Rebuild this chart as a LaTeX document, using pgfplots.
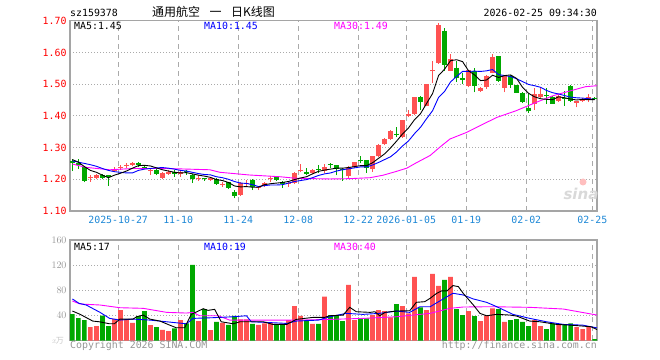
\documentclass[border=0pt]{standalone}
\usepackage{fontspec}
\setmonofont{DejaVu Sans Mono}
\setsansfont{DejaVu Sans}
\newfontfamily\cjk{Noto Sans CJK SC}
\usepackage{pgfplots}
\pgfplotsset{compat=1.18}
\usepackage{pgfplotstable}
\definecolor{cred}{RGB}{255,82,82}
\definecolor{cgreen}{RGB}{0,168,0}
\definecolor{sblue}{RGB}{30,136,214}
\definecolor{gridc}{RGB}{170,170,170}
\definecolor{framec}{RGB}{165,165,165}
\definecolor{vgray}{RGB}{150,150,150}
\definecolor{mag}{RGB}{255,0,255}
\definecolor{mblue}{RGB}{0,0,255}
\newcommand\mf{\fontsize{9.9bp}{11bp}\selectfont\ttfamily}

% i open high low close volume(x10^4)
\pgfplotstableread{
i O H L C V
0 1.258 1.263 1.226 1.250 42.1
1 1.252 1.263 1.232 1.245 35.7
2 1.240 1.242 1.190 1.196 32.5
3 1.203 1.215 1.193 1.206 21.3
4 1.205 1.218 1.200 1.214 22.9
5 1.215 1.218 1.200 1.205 39.5
6 1.212 1.214 1.180 1.206 22.9
7 1.225 1.238 1.222 1.232 34.6
8 1.237 1.245 1.230 1.240 48.5
9 1.243 1.252 1.235 1.246 33.6
10 1.245 1.254 1.242 1.252 28.2
11 1.252 1.256 1.238 1.244 38.9
12 1.240 1.244 1.232 1.236 46.9
13 1.227 1.236 1.214 1.230 24.5
14 1.230 1.234 1.212 1.218 21.3
15 1.205 1.224 1.200 1.220 17.0
16 1.218 1.228 1.214 1.224 14.9
17 1.224 1.228 1.208 1.218 19.2
18 1.218 1.230 1.208 1.222 32.5
19 1.226 1.230 1.214 1.222 27.2
20 1.213 1.216 1.188 1.200 120.5
21 1.200 1.212 1.196 1.204 30.9
22 1.203 1.205 1.196 1.200 50.1
23 1.198 1.206 1.194 1.203 16.5
24 1.200 1.203 1.182 1.186 29.8
25 1.182 1.190 1.176 1.185 28.2
26 1.190 1.193 1.170 1.174 25.0
27 1.161 1.166 1.140 1.148 39.4
28 1.150 1.190 1.148 1.188 33.6
29 1.185 1.198 1.176 1.188 33.6
30 1.199 1.200 1.166 1.176 26.6
31 1.172 1.180 1.166 1.176 25.0
32 1.178 1.192 1.176 1.189 27.2
33 1.200 1.210 1.190 1.203 28.2
34 1.207 1.208 1.196 1.197 24.5
35 1.190 1.194 1.172 1.186 25.6
36 1.184 1.194 1.175 1.188 32.5
37 1.187 1.222 1.184 1.220 54.9
38 1.227 1.249 1.222 1.230 39.4
39 1.222 1.234 1.212 1.218 32.5
40 1.220 1.232 1.218 1.230 26.6
41 1.231 1.244 1.220 1.228 26.6
42 1.226 1.248 1.220 1.240 69.8
43 1.247 1.252 1.236 1.244 40.5
44 1.244 1.246 1.212 1.233 39.4
45 1.231 1.236 1.195 1.228 30.9
46 1.209 1.242 1.205 1.240 88.5
47 1.240 1.256 1.236 1.254 32.5
48 1.261 1.274 1.250 1.258 34.1
49 1.261 1.262 1.220 1.236 35.2
50 1.233 1.274 1.223 1.272 40.5
51 1.272 1.312 1.270 1.309 48.5
52 1.311 1.330 1.308 1.327 46.9
53 1.327 1.354 1.324 1.351 36.8
54 1.344 1.366 1.332 1.340 58.1
55 1.332 1.388 1.330 1.386 54.9
56 1.400 1.420 1.395 1.405 43.2
57 1.406 1.460 1.404 1.458 101.3
58 1.458 1.462 1.419 1.445 52.8
59 1.432 1.502 1.430 1.500 48.5
60 1.540 1.573 1.505 1.543 106.1
61 1.568 1.693 1.565 1.688 86.9
62 1.669 1.677 1.542 1.559 96.5
63 1.542 1.594 1.540 1.578 101.3
64 1.552 1.573 1.506 1.518 50.1
65 1.519 1.536 1.500 1.512 40.5
66 1.494 1.546 1.490 1.544 46.9
67 1.542 1.552 1.474 1.495 38.9
68 1.479 1.490 1.475 1.488 30.9
69 1.490 1.528 1.486 1.526 39.4
70 1.536 1.594 1.534 1.585 51.2
71 1.588 1.590 1.508 1.510 50.1
72 1.489 1.530 1.474 1.525 29.8
73 1.527 1.530 1.488 1.497 32.5
74 1.496 1.498 1.472 1.473 34.1
75 1.473 1.476 1.440 1.444 29.8
76 1.426 1.470 1.410 1.416 22.9
77 1.437 1.488 1.420 1.470 32.5
78 1.460 1.490 1.457 1.468 22.9
79 1.465 1.488 1.437 1.462 18.1
80 1.460 1.462 1.438 1.438 27.2
81 1.447 1.465 1.445 1.463 24.5
82 1.456 1.478 1.432 1.453 24.5
83 1.494 1.496 1.445 1.447 27.2
84 1.441 1.448 1.427 1.447 21.3
85 1.447 1.455 1.443 1.452 18.1
86 1.450 1.470 1.443 1.458 22.9
87 1.456 1.458 1.450 1.452 2.1
}\kdata

\pgfplotstableread{
i v
0 1.262
1 1.254
2 1.240
3 1.228
4 1.222
5 1.213
6 1.205
7 1.213
8 1.219
9 1.226
10 1.235
11 1.243
12 1.244
13 1.242
14 1.236
15 1.230
16 1.226
17 1.222
18 1.220
19 1.221
20 1.217
21 1.213
22 1.210
23 1.206
24 1.199
25 1.196
26 1.190
27 1.179
28 1.176
29 1.177
30 1.175
31 1.175
32 1.183
33 1.186
34 1.188
35 1.190
36 1.193
37 1.199
38 1.204
39 1.208
40 1.217
41 1.225
42 1.229
43 1.232
44 1.235
45 1.235
46 1.237
47 1.240
48 1.243
49 1.243
50 1.252
51 1.266
52 1.280
53 1.299
54 1.320
55 1.343
56 1.362
57 1.388
58 1.407
59 1.439
60 1.470
61 1.527
62 1.547
63 1.574
64 1.577
65 1.571
66 1.542
67 1.529
68 1.511
69 1.513
70 1.528
71 1.521
72 1.527
73 1.529
74 1.518
75 1.490
76 1.471
77 1.460
78 1.454
79 1.452
80 1.451
81 1.460
82 1.457
83 1.453
84 1.450
85 1.452
86 1.451
87 1.451
}\mafive

\pgfplotstableread{
i v
0 1.258
1 1.254
2 1.250
3 1.246
4 1.241
5 1.234
6 1.228
7 1.224
8 1.222
9 1.220
10 1.220
11 1.228
12 1.232
13 1.234
14 1.236
15 1.237
16 1.235
17 1.232
18 1.228
19 1.226
20 1.222
21 1.218
22 1.215
23 1.214
24 1.208
25 1.205
26 1.200
27 1.193
28 1.188
29 1.187
30 1.183
31 1.177
32 1.180
33 1.182
34 1.182
35 1.183
36 1.188
37 1.193
38 1.196
39 1.199
40 1.205
41 1.212
42 1.217
43 1.220
44 1.226
45 1.230
46 1.233
47 1.236
48 1.239
49 1.239
50 1.245
51 1.253
52 1.262
53 1.271
54 1.286
55 1.305
56 1.321
57 1.344
58 1.364
59 1.391
60 1.416
61 1.458
62 1.477
63 1.507
64 1.524
65 1.540
66 1.540
67 1.541
68 1.540
69 1.542
70 1.546
71 1.530
72 1.527
73 1.524
74 1.517
75 1.508
76 1.499
77 1.495
78 1.490
79 1.480
80 1.473
81 1.469
82 1.464
83 1.459
84 1.457
85 1.456
86 1.454
87 1.452
}\maten

\pgfplotstableread{
i v
0 1.248
2.3 1.2375
6.2 1.230
10.1 1.234
15.7 1.234
22.9 1.230
24.6 1.222
29.5 1.2135
34.6 1.208
37.3 1.203
42.9 1.201
46.2 1.202
49.6 1.205
51.8 1.213
54 1.225
55.7 1.235
57.3 1.252
59.6 1.275
61.2 1.301
62.9 1.327
65.7 1.348
67.9 1.369
70.7 1.395
73.9 1.416
77.2 1.442
80 1.463
82.8 1.478
85.5 1.492
87.4 1.495
}\mathirty

\pgfplotstableread{
i v
0 46.9
1.3 41.6
3.4 30.9
4.5 29.8
6.2 26.6
7 26.6
7.9 34.1
10.1 34.1
10.7 37.8
11.8 40.5
12.9 34.1
14.6 30.9
16.2 24.5
17.3 20.3
18.7 20.3
19.8 41.6
21.8 50.6
22.6 48
23.7 49.6
24.8 29.8
26.8 26.6
27.9 29.8
31.8 29.8
33.4 25.6
35.7 25.6
37.3 33.6
40.1 36.8
42 36.8
42.9 39.4
45.1 40.5
46.2 52.8
47.3 45.8
49.6 44.8
50.4 45.8
51.2 39.4
52.1 44.8
54 46.9
56.2 47.4
57.3 60.8
58.7 61.8
59.6 67.2
60.7 75.2
61.5 78.9
62.4 78.9
63.4 87.4
64.3 85.8
65.1 75.2
66.8 56.5
67.9 43.2
69 39.4
70.7 41.6
72.9 40.5
74 38.9
76.2 30.9
77.9 29.8
80.7 25.6
82.9 24.5
85.1 22.9
86.4 21.9
87.4 17.5
}\vmafive

\pgfplotstableread{
i v
0 66.1
1.1 59.2
2.3 56.5
4.6 44.8
6.2 35.2
7.9 32.5
10.1 34.1
12.9 32.5
15.7 29.8
19 26.6
20.1 35.2
23.4 36.3
26.8 37.8
29 39.4
29.8 29.8
32.3 28.8
35.7 27.2
37.3 30.9
41 32.5
42.9 37.8
45.6 43.2
48.4 41.6
51.2 43.2
54 46.9
56.2 44.8
57.9 53.8
59.6 53.8
61.2 62.9
63.4 75.2
65.1 72.5
66.8 66.1
69 60.8
70.7 53.8
73.4 41.6
76.2 35.2
79 29.8
81.8 25.6
85 24.5
87.4 20
}\vmaten

\pgfplotstableread{
i v
0 62.9
1.3 58.1
4.6 56.5
7.9 52.2
11.8 51.2
15.7 44.8
19 43.7
20.1 44.8
21.2 39.4
24.3 39.4
26.2 32.5
37.9 32.5
42.9 33.6
48.4 35.2
54 37.8
59.6 43.2
62.9 51.2
65.1 53.3
69.6 53.8
76.2 52.8
81.8 50.1
87.4 40.5
}\vmathirty

\pgfplotsset{kstyle/.style={
  scale only axis, width=527bp, anchor=south west,
  xmin=-0.4, xmax=87.4,
  axis line style={framec, line width=1.4bp},
  major tick length=0pt,
  xmajorgrids, ymajorgrids,
  x grid style={gridc, line width=1.1bp, dash pattern=on 5bp off 4bp},
  y grid style={gridc, line width=0.9bp, dash pattern=on 1bp off 2bp},
  xtick={7.62,17.62,27.62,37.62,47.62,55.62,65.62,75.62,86.62},
  tick label style={font=\mf},
}}

\begin{document}
\begin{tikzpicture}
\path[use as bounding box] (0,0) rectangle (660bp,360bp);

\begin{axis}[kstyle, at={(70bp,149bp)}, height=190.3bp,
  ymin=1.10, ymax=1.70,
  ytick={1.1,1.2,1.3,1.4,1.5,1.6,1.7},
  yticklabels={1.10,1.20,1.30,1.40,1.50,1.60,1.70},
  yticklabel style={text=red},
  xticklabels={2025-10-27,11-10,11-24,12-08,12-22,2026-01-05,01-19,02-02,02-25},
  xticklabel style={text=sblue, yshift=-2bp}]
% wicks
\addplot[cred, line width=1bp, no markers, quiver={u=0, v=\thisrow{H}-\thisrow{L}},
  restrict expr to domain={\thisrow{C}-\thisrow{O}}{0:1}] table[x=i, y=L] {\kdata};
\addplot[cgreen, line width=1bp, no markers, quiver={u=0, v=\thisrow{H}-\thisrow{L}},
  restrict expr to domain={\thisrow{C}-\thisrow{O}}{-1:-0.0000001}] table[x=i, y=L] {\kdata};
% bodies
\addplot[cred, line width=4.7bp, no markers, quiver={u=0, v=\thisrow{C}-\thisrow{O}},
  restrict expr to domain={\thisrow{C}-\thisrow{O}}{0:1}] table[x=i, y=O] {\kdata};
\addplot[cgreen, line width=4.7bp, no markers, quiver={u=0, v=\thisrow{C}-\thisrow{O}},
  restrict expr to domain={\thisrow{C}-\thisrow{O}}{-1:-0.0000001}] table[x=i, y=O] {\kdata};
% moving averages
\addplot[mag, line width=0.9bp, no markers] table[x=i, y=v] {\mathirty};
\addplot[mblue, line width=0.9bp, no markers] table[x=i, y=v] {\maten};
\addplot[black, line width=0.9bp, no markers] table[x=i, y=v] {\mafive};
\end{axis}

\begin{axis}[kstyle, at={(70bp,19.5bp)}, height=100.5bp,
  ymin=0, ymax=160,
  ytick={40,80,120,160},
  yticklabel style={text=vgray},
  xticklabels={}]
\addplot[ybar, bar width=0.78, bar shift=0pt, fill=cred, draw=none,
  restrict expr to domain={\thisrow{C}-\thisrow{O}}{0:1}] table[x=i, y=V] {\kdata};
\addplot[ybar, bar width=0.78, bar shift=0pt, fill=cgreen, draw=none,
  restrict expr to domain={\thisrow{C}-\thisrow{O}}{-1:-0.0000001}] table[x=i, y=V] {\kdata};
\addplot[mag, line width=0.9bp, no markers] table[x=i, y=v] {\vmathirty};
\addplot[mblue, line width=0.9bp, no markers] table[x=i, y=v] {\vmaten};
\addplot[black, line width=0.9bp, no markers] table[x=i, y=v] {\vmafive};
\end{axis}

\begin{scope}[every node/.style={inner sep=0pt}]
\node[anchor=west] at (70bp,347bp) {\mf sz159378};
\node at (213.5bp,348bp) {\cjk\fontsize{12bp}{13bp}\selectfont 通用航空\hspace{0.8em}一\hspace{0.8em}日K线图};
\node[anchor=east] at (597bp,346.8bp) {\mf 2026-02-25 09:34:30};
\node[anchor=west] at (74bp,333.7bp) {\mf MA5:1.45};
\node[anchor=west, text=mblue] at (204bp,333.7bp) {\mf MA10:1.45};
\node[anchor=west, text=mag] at (334bp,333.7bp) {\mf MA30:1.49};
\node[anchor=west] at (74bp,113.4bp) {\mf MA5:17};
\node[anchor=west, text=mblue] at (204bp,113.4bp) {\mf MA10:19};
\node[anchor=west, text=mag] at (334bp,113.4bp) {\mf MA30:40};
\node[anchor=west, text=vgray] at (70bp,14.5bp) {\mf Copyright 2026 SINA.COM};
\node[anchor=east, text=vgray] at (597bp,14.5bp) {\mf http://finance.sina.com.cn};
\node[anchor=east, text=gray!45] at (64bp,19bp) {\fontsize{8bp}{9bp}\selectfont\itshape x\cjk 万};
\node[text=gray!30] at (581bp,166bp) {\sffamily\bfseries\itshape\fontsize{15bp}{16bp}\selectfont sina};
\fill[red!25] (583bp,178bp) circle (3.5bp);
\end{scope}
\end{tikzpicture}
\end{document}
